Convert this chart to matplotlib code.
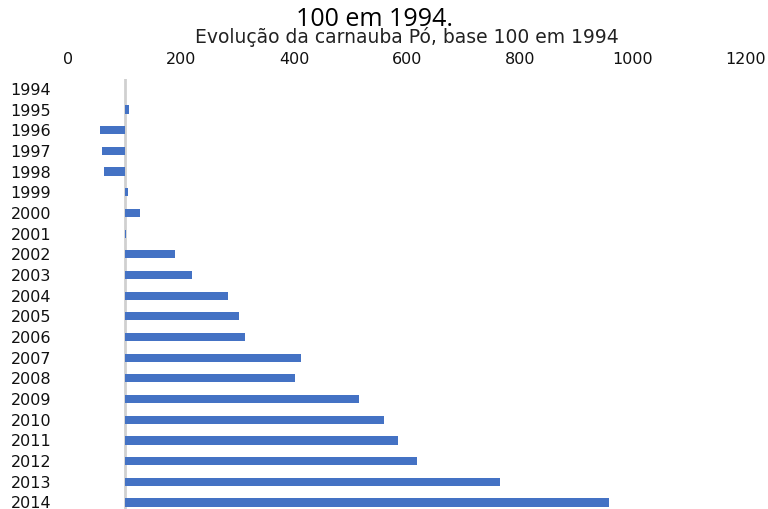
import numpy as np
import matplotlib.pyplot as plt

# indice base 100 em 1994
anos = [str(a) for a in range(1994, 2015)]
indice = [100, 108.5, 57.2, 60.7, 63.2, 106.2, 126.9, 102.1, 189.4, 219.5,
          283.2, 302.7, 313.8, 411.9, 402.3, 515.0, 560.0, 584.8, 617.3,
          764.8, 957.9]
xticks = [0, 200, 400, 600, 800, 1000, 1200]

plt.rcParams['font.family'] = ['DejaVu Sans']

fig = plt.figure(figsize=(7.68, 5.09), dpi=100)
ax = fig.add_axes([68 / 768, 0, 678 / 768, (509 - 78.6) / 509])

pos = np.arange(len(anos))
ax.barh(pos, np.array(indice) - 100, left=100, height=0.4, color='#4472C4')
ax.axvline(100, color='#D0D0D0', lw=2, zorder=0)

ax.set_xlim(0, 1200)
ax.set_ylim(20.32, -0.5)
ax.set_xticks(xticks)
ax.set_xticklabels([str(t) for t in xticks])
ax.set_yticks(pos)
ax.set_yticklabels(anos)
ax.xaxis.tick_top()
ax.tick_params(axis='x', length=0, pad=8, labelsize=11.5, labelcolor='#111111')
ax.tick_params(axis='y', length=0, pad=12, labelsize=11.5, labelcolor='#111111')
for s in ax.spines.values():
    s.set_visible(False)

fig.text(407 / 768, 1 - 37 / 509, "Evolução da carnauba Pó, base 100 em 1994",
         ha='center', va='center', fontsize=13.5, color='#222222')
fig.text(374 / 768, 1 - 19 / 509, "100 em 1994.", ha='center', va='center',
         fontsize=18, family=['Open Sans', 'DejaVu Sans'], color='black')

fig.savefig("out.png", dpi=100)
